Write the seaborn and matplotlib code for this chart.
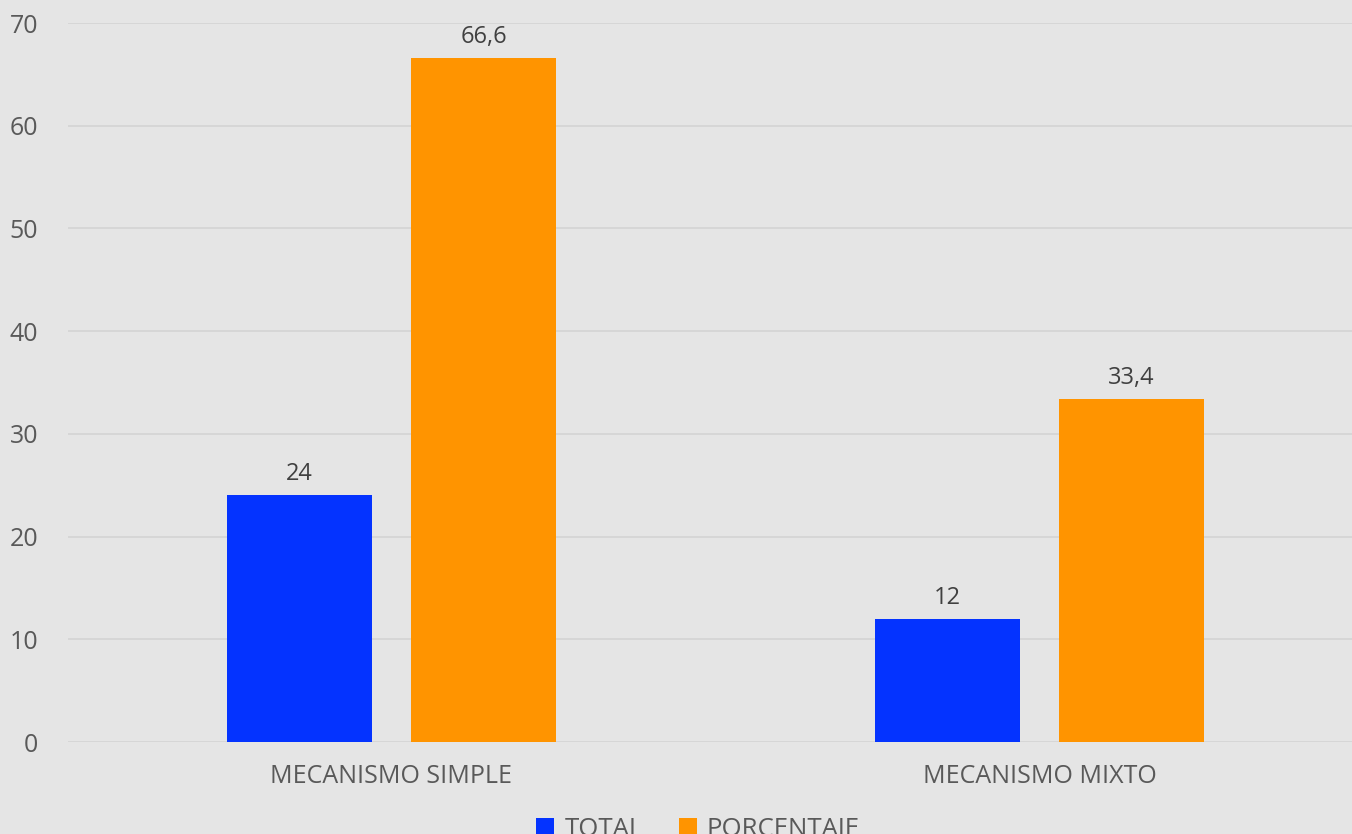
import matplotlib
matplotlib.use("Agg")
import matplotlib.pyplot as plt
import seaborn as sns
import pandas as pd

# Data
categories = ["MECANISMO SIMPLE", "MECANISMO MIXTO"]
series = ["TOTAL", "PORCENTAJE"]
total = [24, 12]
porcentaje = [66.6, 33.4]
yticks = [0, 10, 20, 30, 40, 50, 60, 70]

df = pd.DataFrame({
    "mecanismo": categories * 2,
    "serie": [series[0]] * len(categories) + [series[1]] * len(categories),
    "valor": total + porcentaje,
})

sns.set_theme(style="whitegrid")
plt.rcParams["font.family"] = ["Open Sans", "DejaVu Sans"]

bg = "#E5E5E5"
fig = plt.figure(figsize=(13.52, 8.34), dpi=100, facecolor=bg)
ax = fig.add_axes([67.5 / 1352, 92 / 834, 1296 / 1352, 719 / 834])
ax.set_facecolor(bg)

sns.barplot(data=df, x="mecanismo", y="valor", hue="serie",
            palette=["#0433FF", "#FF9400"], width=0.568, gap=0.212,
            saturation=1, linewidth=0, ax=ax, legend=True)

for cont in ax.containers:
    labs = [f"{v:g}".replace(".", ",") for v in cont.datavalues]
    ax.bar_label(cont, labels=labs, padding=6.5, fontsize=17, color="#404040")

ax.set_xlim(-0.5, 1.5)
ax.set_ylim(0, 70)
ax.set_yticks(yticks)
ax.set_xlabel("")
ax.set_ylabel("")
ax.grid(axis="y", color="#D5D5D5", linewidth=1.3)
ax.grid(axis="x", visible=False)
ax.set_axisbelow(True)
for s in ax.spines.values():
    s.set_visible(False)
ax.tick_params(axis="y", labelsize=18, labelcolor="#595959", pad=21, length=0)
ax.tick_params(axis="x", labelsize=18, labelcolor="#595959", pad=16, length=0)

handles, labels = ax.get_legend_handles_labels()
ax.get_legend().remove()
fig.legend(handles, labels, loc="upper center", bbox_to_anchor=(698 / 1352, 40 / 834),
           ncol=2, frameon=False, fontsize=18.5, labelcolor="#595959",
           handlelength=0.7, handleheight=0.7, handletextpad=0.4, columnspacing=1.4)

fig.savefig("out.png", dpi=100, facecolor=bg)
